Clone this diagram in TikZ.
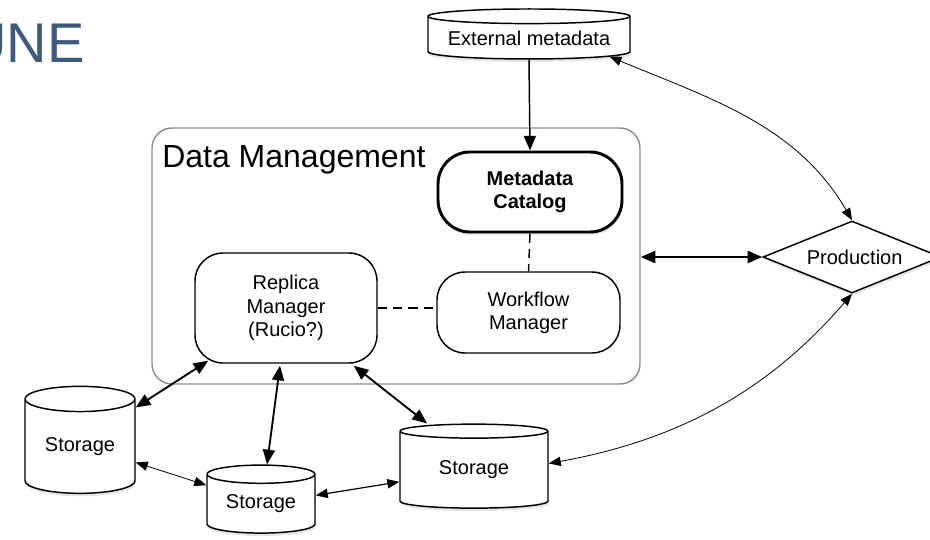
\documentclass[tikz,border=0pt]{standalone}
\usepackage{fontspec}
\setmainfont{Liberation Sans}
\usetikzlibrary{arrows.meta}
\usetikzlibrary{calc}
\usetikzlibrary{shapes.geometric}
\usetikzlibrary{shadows}
\usepackage{xcolor}
\definecolor{dunetitle}{HTML}{3E5A7D}
\definecolor{boxgray}{HTML}{8C8C8C}

\tikzset{
  unit/.style={draw, line width=1.1pt, fill=white, align=center,
    font=\fontsize{15}{17.5}\selectfont, inner sep=0pt},
  soft/.style={drop shadow={opacity=0.2, shadow xshift=0.6pt, shadow yshift=-2.2pt}},
  storage/.style={unit, soft, cylinder, shape border rotate=90},
  manager/.style={unit, rounded corners=21pt},
  link/.style={line width=1.4pt, {Triangle[length=11pt,width=9pt]}-{Triangle[length=11pt,width=9pt]}},
  thinlink/.style={line width=0.6pt, {Triangle[length=9pt,width=7pt]}-{Triangle[length=9pt,width=7pt]}}
}

\begin{document}
\begin{tikzpicture}[x=0.75pt, y=-0.75pt]
        \useasboundingbox (0,0) rectangle (930,539);

        % Title
        \node[anchor=base east, text=dunetitle, font=\fontsize{42}{42}\selectfont, inner sep=0pt] (title) at (85,62) {UNE};

        % Data management box
        \node[draw=boxgray, line width=1.1pt, rounded corners=15pt, minimum width=366pt, minimum height=192pt] (dm) at (396,256) {};
        \node[anchor=base west, font=\fontsize{24}{28}\selectfont, inner sep=0pt] (dmlabel) at (162,167) {Data Management};

        % Nodes
        \node[storage, aspect=0.09, minimum width=151.5pt, minimum height=37.5pt] (ext) at (529,38) {External metadata};
        \node[unit, soft, line width=2.2pt, rounded corners=24pt, minimum width=138pt, minimum height=60pt, font=\bfseries\fontsize{15}{17.5}\selectfont] (meta) at (530,192) {Metadata\\Catalog};
        \node[manager, minimum width=137.25pt, minimum height=60.75pt] (work) at (528.5,312.5) {Workflow\\Manager};
        \node[manager, minimum width=136.5pt, minimum height=82.5pt] (rep) at (286,308) {Replica\\Manager\\(Rucio?)};
        \node[unit, soft, diamond, aspect=2.47, minimum width=133.5pt, minimum height=54pt] (prod) at (852,257) {\hspace*{4pt}Production};

        \node[storage, aspect=0.36, minimum width=82.5pt, minimum height=80.25pt] (s1) at (80,446.5) {Storage};
        \node[storage, aspect=0.26, minimum width=81pt, minimum height=51pt] (s2) at (261,504) {Storage};
        \node[storage, aspect=0.2, minimum width=111pt, minimum height=63pt] (s3) at (474,470) {Storage};

        % Connectors
        \draw[line width=1.1pt, -{Triangle[length=11pt,width=9pt]}] (ext.south) -- (meta.north);
        \draw[line width=1.1pt, dashed, dash pattern=on 7pt off 4.5pt] (meta.south) -- (work.north);
        \draw[line width=1.1pt, dashed, dash pattern=on 7pt off 4.5pt] (rep.east) -- (rep.east -| work.west);
        \draw[link, line width=1.9pt] (prod.west -| dm.east) -- (prod.west);

        \draw[thinlink] (ext.-13) .. controls +(101,42) and +(-55,-95) .. (prod.north);
        \draw[thinlink] (s3.5) .. controls +(127,-23) and +(-85,99) .. (prod.south);

        \draw[link] ($(rep.south west)+(14,-3)$) -- (s1.35);
        \draw[link] ($(rep.south)+(-6,2)$) -- ($(s2.north)+(6,0)$);
        \draw[link] ($(rep.south east)+(-24,2)$) -- ($(s3.north)+(-47,0)$);
        \draw[thinlink] (s1.-16) -- (s2.161);
        \draw[thinlink, line width=0.9pt] (s2.9) -- (s3.189);
    \end{tikzpicture}
\end{document}
